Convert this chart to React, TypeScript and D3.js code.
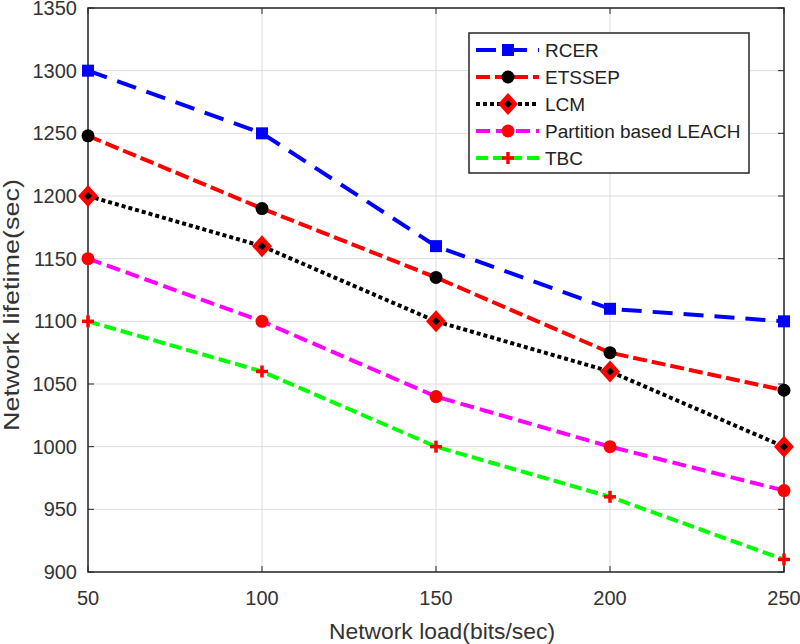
import React from "react";
import * as d3 from "d3";

const loads = [50, 100, 150, 200, 250];
const rcer = [1300, 1250, 1160, 1110, 1100];
const etssep = [1248, 1190, 1135, 1075, 1045];
const lcm = [1200, 1160, 1100, 1060, 1000];
const partition = [1150, 1100, 1040, 1000, 965];
const tbc = [1100, 1060, 1000, 960, 910];
const xTicks = [50, 100, 150, 200, 250];
const yTicks = [900, 950, 1000, 1050, 1100, 1150, 1200, 1250, 1300, 1350];
const seriesNames = ["RCER", "ETSSEP", "LCM", "Partition based LEACH", "TBC"];

const W = 800, H = 644;
const L = 88, R = 784, T = 8, B = 572;

type S = { name: string; values: number[]; color: string; dash: string; marker: string };
const series: S[] = [
  { name: seriesNames[0], values: rcer, color: "#0000ff", dash: "20,11", marker: "square" },
  { name: seriesNames[1], values: etssep, color: "#ff0000", dash: "14,5", marker: "circleBlack" },
  { name: seriesNames[2], values: lcm, color: "#000000", dash: "4,3", marker: "diamond" },
  { name: seriesNames[3], values: partition, color: "#ff00ff", dash: "14,6", marker: "circleRed" },
  { name: seriesNames[4], values: tbc, color: "#00ff00", dash: "12,5", marker: "plus" },
];

function Marker({ type, x, y }: { type: string; x: number; y: number }) {
  if (type === "square") return <rect x={x - 6} y={y - 6} width={12} height={12} fill="#0000ff" />;
  if (type === "circleBlack") return <circle cx={x} cy={y} r={6.5} fill="#000" />;
  if (type === "circleRed") return <circle cx={x} cy={y} r={6.5} fill="#ff0000" />;
  if (type === "diamond")
    return (
      <g>
        <path d={`M${x},${y - 11}L${x + 10},${y}L${x},${y + 11}L${x - 10},${y}Z`} fill="#ff0000" />
        <path d={`M${x},${y - 4}L${x + 4},${y}L${x},${y + 4}L${x - 4},${y}Z`} fill="#000" />
      </g>
    );
  return (
    <g stroke="#ff0000" strokeWidth={3.5}>
      <line x1={x - 6} y1={y} x2={x + 6} y2={y} />
      <line x1={x} y1={y - 6} x2={x} y2={y + 6} />
    </g>
  );
}

export default function App() {
  const x = d3.scaleLinear().domain([50, 250]).range([L, R]);
  const y = d3.scaleLinear().domain([900, 1350]).range([B, T]);
  const line = d3
    .line<number>()
    .x((_, i) => x(loads[i]))
    .y((d) => y(d));
  const font = "Arial, 'Liberation Sans', sans-serif";
  const lx = 469, ly = 33, lw = 280, lh = 140;
  return (
    <svg width={W} height={H} style={{ position: "absolute", left: 0, top: 0, background: "#fff" }}>
      <rect x={0} y={0} width={W} height={H} fill="#fff" />
      {xTicks.map((t) => (
        <line key={"gx" + t} x1={x(t)} x2={x(t)} y1={T} y2={B} stroke="#dcdcdc" strokeWidth={1} />
      ))}
      {yTicks.map((t) => (
        <line key={"gy" + t} x1={L} x2={R} y1={y(t)} y2={y(t)} stroke="#dcdcdc" strokeWidth={1} />
      ))}
      <rect x={L} y={T} width={R - L} height={B - T} fill="none" stroke="#262626" strokeWidth={1.5} />
      {xTicks.map((t) => (
        <g key={"tx" + t}>
          <line x1={x(t)} x2={x(t)} y1={B} y2={B - 6} stroke="#262626" />
          <line x1={x(t)} x2={x(t)} y1={T} y2={T + 6} stroke="#262626" />
          <text x={x(t)} y={605} textAnchor="middle" fontFamily={font} fontSize={20} fill="#333">
            {t}
          </text>
        </g>
      ))}
      {yTicks.map((t) => (
        <g key={"ty" + t}>
          <line x1={L} x2={L + 6} y1={y(t)} y2={y(t)} stroke="#262626" />
          <line x1={R} x2={R - 6} y1={y(t)} y2={y(t)} stroke="#262626" />
          <text x={77} y={y(t) + 7} textAnchor="end" fontFamily={font} fontSize={20} fill="#333">
            {t}
          </text>
        </g>
      ))}
      <text
        x={442}
        y={639}
        textAnchor="middle"
        fontFamily={font}
        fontSize={22}
        fill="#333"
        textLength={226}
        lengthAdjust="spacingAndGlyphs"
      >
        Network load(bits/sec)
      </text>
      <text
        transform={`translate(19,305) rotate(-90)`}
        textAnchor="middle"
        fontFamily={font}
        fontSize={22}
        fill="#333"
        textLength={252}
        lengthAdjust="spacingAndGlyphs"
      >
        Network lifetime(sec)
      </text>
      {series.map((s) => (
        <g key={s.name}>
          <path d={line(s.values) || ""} fill="none" stroke={s.color} strokeWidth={4} strokeDasharray={s.dash} />
          {s.values.map((v, i) => (
            <Marker key={i} type={s.marker} x={x(loads[i])} y={y(v)} />
          ))}
        </g>
      ))}
      <rect x={lx} y={ly} width={lw} height={lh} fill="#fff" stroke="#262626" strokeWidth={1.5} />
      {series.map((s, i) => {
        const yy = 50 + i * 27;
        return (
          <g key={"lg" + s.name}>
            <line x1={476} x2={539} y1={yy} y2={yy} stroke={s.color} strokeWidth={4} strokeDasharray={s.dash} />
            <Marker type={s.marker} x={508} y={yy} />
            <text x={545} y={yy + 6.5} fontFamily={font} fontSize={19} fill="#222">
              {s.name}
            </text>
          </g>
        );
      })}
    </svg>
  );
}
